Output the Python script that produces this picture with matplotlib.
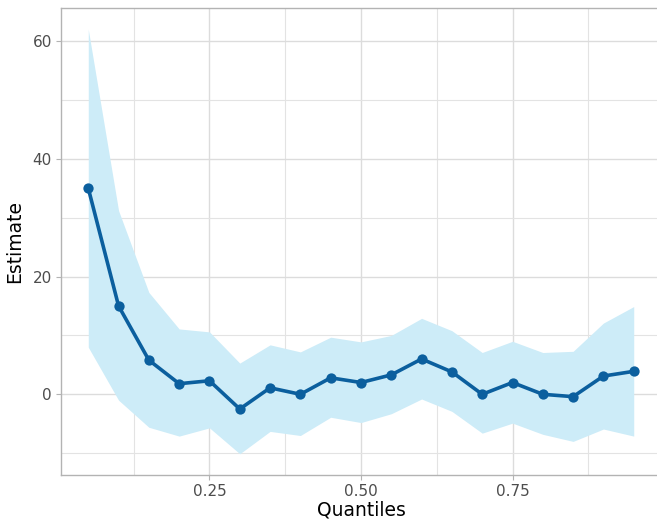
import numpy as np
import matplotlib.pyplot as plt

# quantile regression estimates with confidence band
quantiles = [0.05, 0.10, 0.15, 0.20, 0.25, 0.30, 0.35, 0.40, 0.45, 0.50,
             0.55, 0.60, 0.65, 0.70, 0.75, 0.80, 0.85, 0.90, 0.95]
estimate = [35.0, 15.0, 5.8, 1.8, 2.3, -2.5, 1.1, 0.0, 2.8, 2.0,
            3.3, 6.0, 3.8, 0.0, 2.0, 0.0, -0.4, 3.1, 3.9]
upper = [62.0, 31.2, 17.3, 11.1, 10.6, 5.3, 8.4, 7.2, 9.7, 8.9,
         10.0, 12.9, 10.8, 7.1, 9.0, 7.1, 7.3, 12.1, 14.9]
lower = [8.0, -1.0, -5.6, -7.1, -5.7, -10.1, -6.3, -7.0, -3.9, -4.8,
         -3.3, -0.8, -2.9, -6.6, -4.9, -6.8, -8.0, -5.9, -7.1]

fig = plt.figure(figsize=(6.57, 5.21), dpi=100)
# panel runs a little past the right edge of the figure
ax = fig.add_axes([61/657, 46/521, 600/657, 467/521])

ax.fill_between(quantiles, lower, upper, color="#cdecf8", linewidth=0, zorder=2)
ax.plot(quantiles, estimate, color="#0b5f9e", linewidth=2.6, zorder=3)
ax.scatter(quantiles, estimate, color="#0b5f9e", s=55, zorder=4, linewidths=0)

# ggplot-style expansion of the limits
ymin, ymax = min(lower), max(upper)
pad = 0.05 * (ymax - ymin)
ax.set_ylim(ymin - pad, ymax + pad)
xpad = 0.05 * (max(quantiles) - min(quantiles))
ax.set_xlim(min(quantiles) - xpad, max(quantiles) + xpad)

ax.set_xticks([0.25, 0.50, 0.75])
ax.set_xticklabels(["0.25", "0.50", "0.75"])
ax.set_xticks([0.125, 0.375, 0.625, 0.875], minor=True)
ax.set_yticks([0, 20, 40, 60])
ax.set_yticks([-10, 10, 30, 50], minor=True)

ax.grid(True, which="major", color="#dcdcdc", linewidth=1.0, zorder=0)
ax.grid(True, which="minor", color="#e3e3e3", linewidth=0.8, zorder=0)
ax.set_axisbelow(True)

for s in ax.spines.values():
    s.set_color("#b3b3b3")
    s.set_linewidth(1.0)

ax.tick_params(which="major", length=3.5, color="#b3b3b3", width=0.8,
               labelsize=11, labelcolor="#4d4d4d", pad=3)
ax.tick_params(which="minor", length=0)

ax.set_xlabel("Quantiles", fontsize=13.5, color="black", labelpad=1)
ax.set_ylabel("Estimate", fontsize=13.5, color="black", labelpad=6)

fig.savefig("out.png", dpi=100)
